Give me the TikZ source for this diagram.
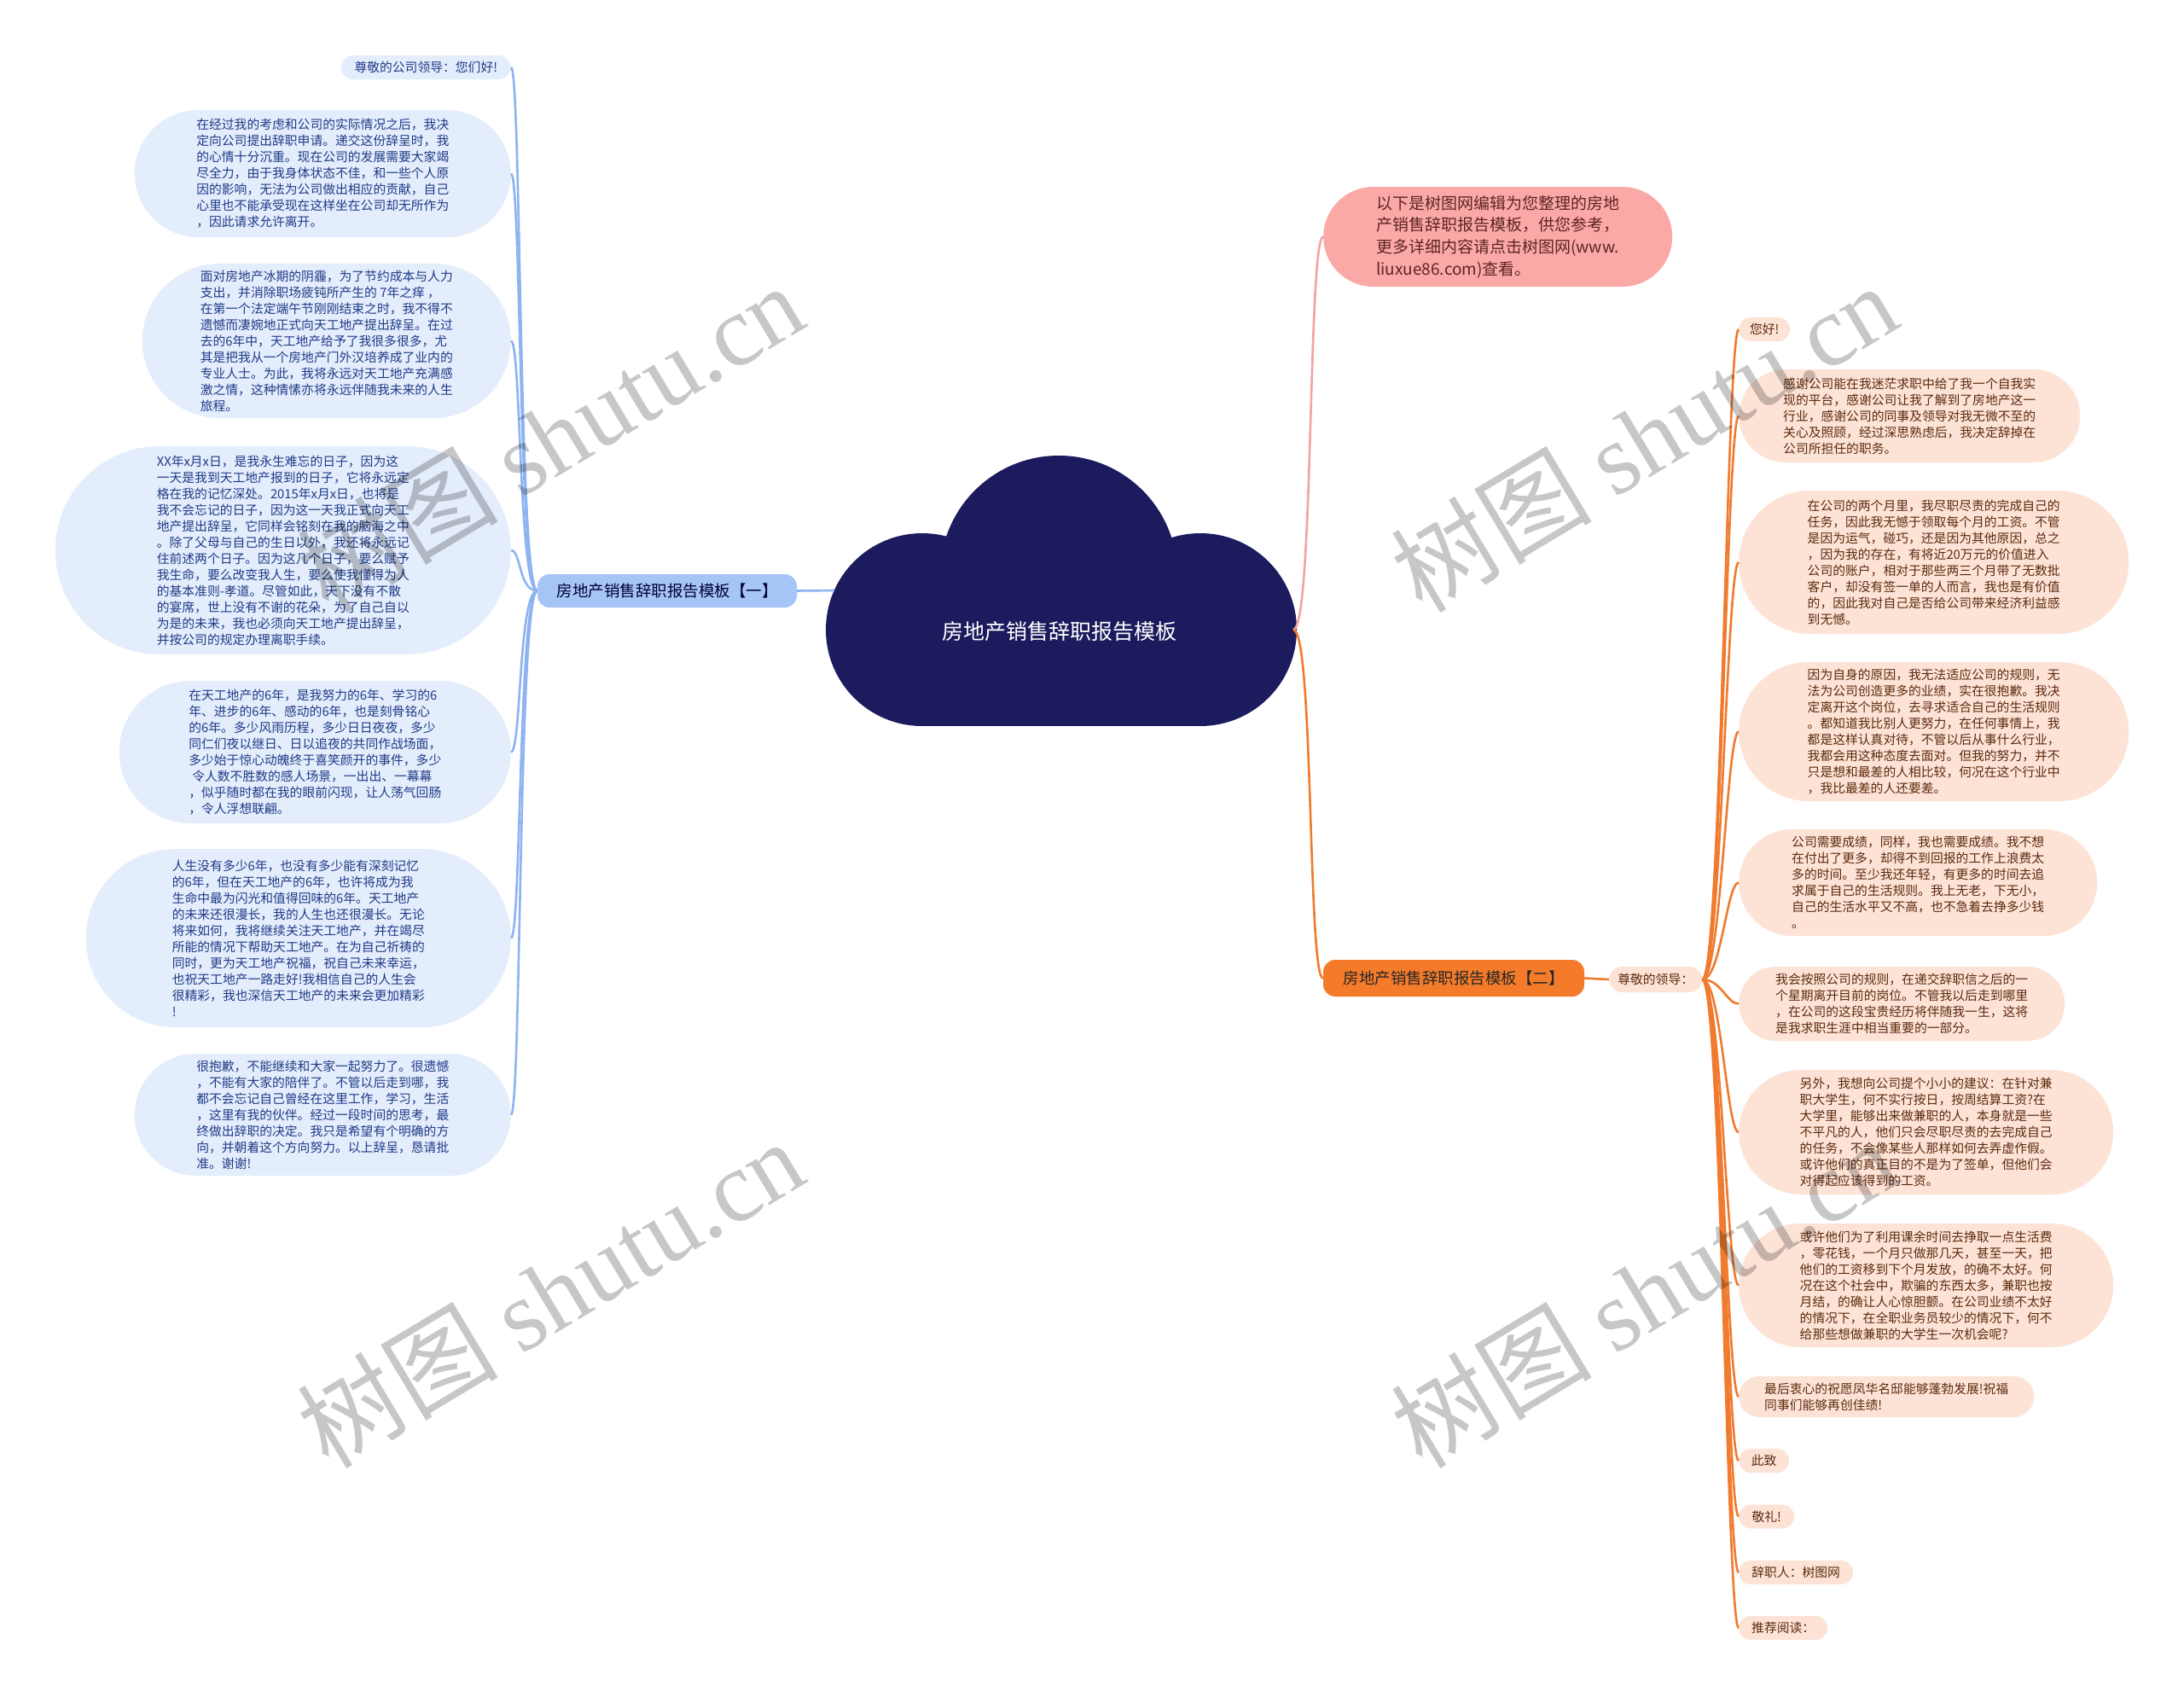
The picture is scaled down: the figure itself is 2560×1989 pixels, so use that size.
\documentclass[tikz,border=0pt]{standalone}
\usepackage{fontspec}
\setmainfont{Noto Sans CJK SC}
\newfontfamily\markfont{Liberation Serif}
\usetikzlibrary{shapes.misc}
\definecolor{cloudNavy}{HTML}{1B1B5E}
\definecolor{leafBlue}{HTML}{E4EDFC}
\definecolor{inkBlue}{HTML}{1F3A86}
\definecolor{lineBlue}{HTML}{8DB3F0}
\definecolor{branchBlue}{HTML}{A6C5F7}
\definecolor{leafPeach}{HTML}{FDE3D6}
\definecolor{inkBrown}{HTML}{5B2A0E}
\definecolor{lineOrange}{HTML}{F07A2E}
\definecolor{branchOrange}{HTML}{F47B2A}
\definecolor{notePink}{HTML}{FBA9A7}
\definecolor{linePink}{HTML}{F2A3A3}
\definecolor{inkRed}{HTML}{5E2424}
\newcommand{\leaftext}{\fontsize{14.8}{19}\selectfont}
\tikzstyle{leafL}=[rounded rectangle, fill=leafBlue, text=inkBlue, align=left, inner xsep=0pt, inner ysep=5pt, font=\leaftext]
\tikzstyle{leafR}=[rounded rectangle, fill=leafPeach, text=inkBrown, align=left, inner xsep=0pt, inner ysep=5pt, font=\leaftext]
\tikzstyle{branch}=[rectangle, rounded corners=14pt, inner sep=0pt, font=\fontsize{18.5}{22}\selectfont]
\tikzstyle{notebox}=[rounded rectangle, fill=notePink, text=inkRed, align=left, inner xsep=0pt, inner ysep=6pt, font=\fontsize{19}{25.6}\selectfont]
\tikzstyle{linkL}=[draw=lineBlue, line width=2.6pt]
\tikzstyle{linkR}=[draw=lineOrange, line width=2.6pt]
\tikzstyle{linkP}=[draw=linePink, line width=2.6pt]
\tikzstyle{watermark}=[rotate=31, text=black, text opacity=0.22, font=\fontsize{118}{120}\selectfont]

\begin{document}
\begin{tikzpicture}[x=1pt, y=-1pt]
			\useasboundingbox (0,0) rectangle (2560,1989);
			\fill[white] (0,0) rectangle (2560,1989);

			% Cloud of the root
			\fill[cloudNavy] (1081,738) circle[radius=113];
			\fill[cloudNavy] (1407,738) circle[radius=113];
			\fill[cloudNavy] (1241,673) circle[radius=139];
			\fill[cloudNavy] (1081,673) rectangle (1407,851);
			\node[text=white, font=\fontsize{25}{30}\selectfont] (root) at (1242,740) {房地产销售辞职报告模板};
			\coordinate (rootW) at (978,692);
			\coordinate (rootE) at (1516,738);

			% Branch one
			\node[branch, fill=branchBlue, text=black!80!blue, minimum width=304, minimum height=39] (b1) at (782,692.5) {房地产销售辞职报告模板【一】};

			\node[leafL, anchor=east, minimum width=199, minimum height=28] (l0) at (599,79) {尊敬的公司领导：您们好!};
			\node[leafL, anchor=east, minimum width=441, minimum height=149] (l1) at (599,203.5) {在经过我的考虑和公司的实际情况之后，我决\\定向公司提出辞职申请。递交这份辞呈时，我\\的心情十分沉重。现在公司的发展需要大家竭\\尽全力，由于我身体状态不佳，和一些个人原\\因的影响，无法为公司做出相应的贡献，自己\\心里也不能承受现在这样坐在公司却无所作为\\，因此请求允许离开。};
			\node[leafL, anchor=east, minimum width=432, minimum height=181] (l2) at (599,399.5) {面对房地产冰期的阴霾，为了节约成本与人力\\支出，并消除职场疲钝所产生的 7年之痒 ，\\在第一个法定端午节刚刚结束之时，我不得不\\遗憾而凄婉地正式向天工地产提出辞呈。在过\\去的6年中，天工地产给予了我很多很多，尤\\其是把我从一个房地产门外汉培养成了业内的\\专业人士。为此，我将永远对天工地产充满感\\激之情，这种情愫亦将永远伴随我未来的人生\\旅程。};
			\node[leafL, anchor=east, minimum width=534, minimum height=244] (l3) at (599,645) {XX年x月x日，是我永生难忘的日子，因为这\\一天是我到天工地产报到的日子，它将永远定\\格在我的记忆深处。2015年x月x日，也将是\\我不会忘记的日子，因为这一天我正式向天工\\地产提出辞呈，它同样会铭刻在我的脑海之中\\。除了父母与自己的生日以外，我还将永远记\\住前述两个日子。因为这几个日子，要么赋予\\我生命，要么改变我人生，要么使我懂得为人\\的基本准则-孝道。尽管如此，天下没有不散\\的宴席，世上没有不谢的花朵，为了自己自以\\为是的未来，我也必须向天工地产提出辞呈，\\并按公司的规定办理离职手续。};
			\node[leafL, anchor=east, minimum width=459, minimum height=167] (l4) at (599,881.5) {在天工地产的6年，是我努力的6年、学习的6\\年、进步的6年、感动的6年，也是刻骨铭心\\的6年。多少风雨历程，多少日日夜夜，多少\\同仁们夜以继日、日以追夜的共同作战场面，\\多少始于惊心动魄终于喜笑颜开的事件，多少\\\hspace{4pt}令人数不胜数的感人场景，一出出、一幕幕\\，似乎随时都在我的眼前闪现，让人荡气回肠\\，令人浮想联翩。};
			\node[leafL, anchor=east, minimum width=498, minimum height=209] (l5) at (599,1099.5) {人生没有多少6年，也没有多少能有深刻记忆\\的6年，但在天工地产的6年，也许将成为我\\生命中最为闪光和值得回味的6年。天工地产\\的未来还很漫长，我的人生也还很漫长。无论\\将来如何，我将继续关注天工地产，并在竭尽\\所能的情况下帮助天工地产。在为自己祈祷的\\同时，更为天工地产祝福，祝自己未来幸运，\\也祝天工地产一路走好!我相信自己的人生会\\很精彩，我也深信天工地产的未来会更加精彩\\!};
			\node[leafL, anchor=east, minimum width=441, minimum height=143] (l6) at (599,1306.5) {很抱歉，不能继续和大家一起努力了。很遗憾\\，不能有大家的陪伴了。不管以后走到哪，我\\都不会忘记自己曾经在这里工作，学习，生活\\，这里有我的伙伴。经过一段时间的思考，最\\终做出辞职的决定。我只是希望有个明确的方\\向，并朝着这个方向努力。以上辞呈，恳请批\\准。谢谢!};

			\draw[linkL] (b1.east) -- (rootW);
			\foreach \n in {0,...,6}{
				\draw[linkL] (b1.west) .. controls +(-22,0) and +(12,0) .. (l\n.east);
			}

			% Note on top
			\node[notebox, anchor=west, minimum width=409, minimum height=117] (note) at (1551,277.5) {以下是树图网编辑为您整理的房地\\产销售辞职报告模板，供您参考，\\更多详细内容请点击树图网(www.\\liuxue86.com)查看。};
			\draw[linkP] (rootE) .. controls +(24,0) and +(-18,0) .. (note.west);

			% Branch two
			\node[branch, fill=branchOrange, text=black!85, minimum width=306, minimum height=43] (b2) at (1704,1146.5) {房地产销售辞职报告模板【二】};
			\node[leafR, anchor=west, minimum width=109, minimum height=30] (lead) at (1886,1148) {尊敬的领导：};
			\draw[linkR] (rootE) .. controls +(24,0) and +(-18,0) .. (b2.west);
			\draw[linkR] (b2.east) -- (lead.west);

			\node[leafR, anchor=west, minimum width=60, minimum height=28] (r0) at (2038,386) {您好!};
			\node[leafR, anchor=west, minimum width=400, minimum height=109] (r1) at (2038,487.5) {感谢公司能在我迷茫求职中给了我一个自我实\\现的平台，感谢公司让我了解到了房地产这一\\行业，感谢公司的同事及领导对我无微不至的\\关心及照顾，经过深思熟虑后，我决定辞掉在\\公司所担任的职务。};
			\node[leafR, anchor=west, minimum width=457, minimum height=168] (r2) at (2038,659) {在公司的两个月里，我尽职尽责的完成自己的\\任务，因此我无憾于领取每个月的工资。不管\\是因为运气，碰巧，还是因为其他原因，总之\\，因为我的存在，有将近20万元的价值进入\\公司的账户，相对于那些两三个月带了无数批\\客户，却没有签一单的人而言，我也是有价值\\的，因此我对自己是否给公司带来经济利益感\\到无憾。};
			\node[leafR, anchor=west, minimum width=457, minimum height=163] (r3) at (2038,857.5) {因为自身的原因，我无法适应公司的规则，无\\法为公司创造更多的业绩，实在很抱歉。我决\\定离开这个岗位，去寻求适合自己的生活规则\\。都知道我比别人更努力，在任何事情上，我\\都是这样认真对待，不管以后从事什么行业，\\我都会用这种态度去面对。但我的努力，并不\\只是想和最差的人相比较，何况在这个行业中\\，我比最差的人还要差。};
			\node[leafR, anchor=west, minimum width=420, minimum height=125] (r4) at (2038,1034.5) {公司需要成绩，同样，我也需要成绩。我不想\\在付出了更多，却得不到回报的工作上浪费太\\多的时间。至少我还年轻，有更多的时间去追\\求属于自己的生活规则。我上无老，下无小，\\自己的生活水平又不高，也不急着去挣多少钱\\。};
			\node[leafR, anchor=west, minimum width=382, minimum height=87] (r5) at (2038,1176.5) {我会按照公司的规则，在递交辞职信之后的一\\个星期离开目前的岗位。不管我以后走到哪里\\，在公司的这段宝贵经历将伴随我一生，这将\\是我求职生涯中相当重要的一部分。};
			\node[leafR, anchor=west, minimum width=439, minimum height=146] (r6) at (2038,1327) {另外，我想向公司提个小小的建议：在针对兼\\职大学生，何不实行按日，按周结算工资?在\\大学里，能够出来做兼职的人，本身就是一些\\不平凡的人，他们只会尽职尽责的去完成自己\\的任务，不会像某些人那样如何去弄虚作假。\\或许他们的真正目的不是为了签单，但他们会\\对得起应该得到的工资。};
			\node[leafR, anchor=west, minimum width=439, minimum height=145] (r7) at (2038,1506.5) {或许他们为了利用课余时间去挣取一点生活费\\，零花钱，一个月只做那几天，甚至一天，把\\他们的工资移到下个月发放，的确不太好。何\\况在这个社会中，欺骗的东西太多，兼职也按\\月结，的确让人心惊胆颤。在公司业绩不太好\\的情况下，在全职业务员较少的情况下，何不\\给那些想做兼职的大学生一次机会呢?};
			\node[leafR, anchor=west, minimum width=346, minimum height=48] (r8) at (2038,1637) {最后衷心的祝愿凤华名邸能够蓬勃发展!祝福\\同事们能够再创佳绩!};
			\node[leafR, anchor=west, minimum width=59, minimum height=28] (r9) at (2038,1712) {此致};
			\node[leafR, anchor=west, minimum width=65, minimum height=28] (r10) at (2038,1777.5) {敬礼!};
			\node[leafR, anchor=west, minimum width=134, minimum height=28] (r11) at (2038,1843) {辞职人：树图网};
			\node[leafR, anchor=west, minimum width=104, minimum height=28] (r12) at (2038,1908) {推荐阅读：};

			\foreach \n in {0,...,12}{
				\draw[linkR] (lead.east) .. controls +(22,0) and +(-14,0) .. (r\n.west);
			}

			% Watermarks
			\node[watermark] (wm1) at (645,512) {树图 {\markfont shutu.cn}};
			\node[watermark] (wm2) at (1927,512) {树图 {\markfont shutu.cn}};
			\node[watermark] (wm3) at (645,1515) {树图 {\markfont shutu.cn}};
			\node[watermark] (wm4) at (1927,1515) {树图 {\markfont shutu.cn}};
\end{tikzpicture}
\end{document}
